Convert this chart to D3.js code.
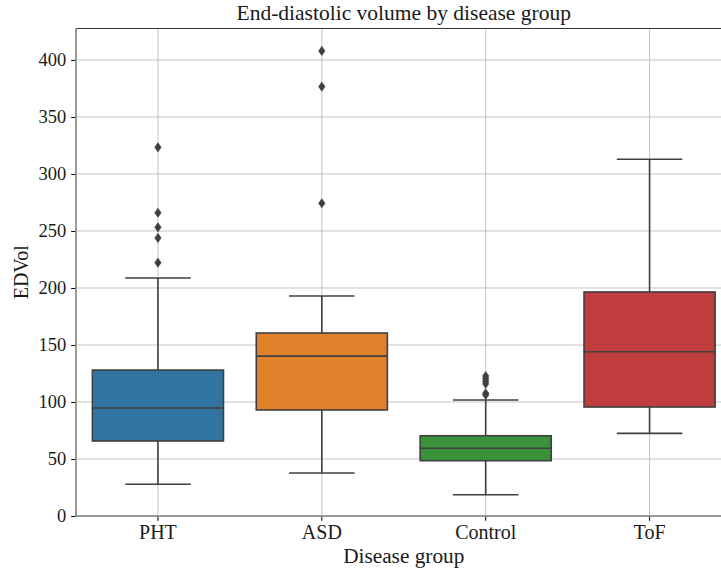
<!DOCTYPE html>
<html>
<head>
<meta charset="utf-8">
<script src="https://cdn.jsdelivr.net/npm/d3@7"></script>
<style>
  html, body { margin: 0; padding: 0; background: #fff; }
  svg { display: block; }
  text { font-family: "Liberation Serif", "DejaVu Serif", serif; fill: #1a1a1a; }
</style>
</head>
<body>
<svg id="chart" width="721" height="572"></svg>
<script>
const categories = ["PHT", "ASD", "Control", "ToF"];
const q1 = [65.8, 93, 48.5, 95.6];
const median = [94.7, 140.2, 59.4, 144.1];
const q3 = [128, 160.5, 70.4, 196.5];
const whiskerLow = [27.8, 37.7, 18.7, 72.5];
const whiskerHigh = [208.8, 193, 101.8, 312.9];
const outliers = [
  [323.4, 266, 253.2, 243.9, 222.2],
  [407.9, 376.6, 274.3],
  [122.8, 120.6, 118.3, 116, 107.6, 106.2],
  []
];
const yTicks = [0, 50, 100, 150, 200, 250, 300, 350, 400];
const colors = ["#3274a1", "#e1812c", "#3a923a", "#c03d3e"];

const svg = d3.select("#chart");
const m = { left: 76, right: 731.5, top: 28.5, bottom: 516 };
const lineColor = "#3f3f3f";

const x = d3.scaleBand().domain(categories).range([m.left, m.right]).paddingInner(0).paddingOuter(0);
const y = d3.scaleLinear().domain([0, 427.6]).range([m.bottom, m.top]);

const bw = x.bandwidth();

// grid
const grid = svg.append("g");
grid.selectAll("line.hy").data(yTicks).join("line")
  .attr("x1", m.left).attr("x2", m.right)
  .attr("y1", d => y(d)).attr("y2", d => y(d))
  .attr("stroke", "#b0b0b0").attr("stroke-opacity", 0.75).attr("stroke-width", 1);
grid.selectAll("line.vx").data(categories).join("line")
  .attr("x1", d => x(d) + bw / 2).attr("x2", d => x(d) + bw / 2)
  .attr("y1", m.top).attr("y2", m.bottom)
  .attr("stroke", "#b0b0b0").attr("stroke-opacity", 0.75).attr("stroke-width", 1);

// boxes
const data = categories.map((c, i) => ({ c, i }));
const g = svg.append("g");
data.forEach(({ c, i }) => {
  const cx = x(c) + bw / 2;
  const boxW = bw * 0.8;
  const capW = boxW * 0.5;
  g.append("line").attr("x1", cx).attr("x2", cx).attr("y1", y(q3[i])).attr("y2", y(whiskerHigh[i]))
    .attr("stroke", lineColor).attr("stroke-width", 1.6);
  g.append("line").attr("x1", cx).attr("x2", cx).attr("y1", y(q1[i])).attr("y2", y(whiskerLow[i]))
    .attr("stroke", lineColor).attr("stroke-width", 1.6);
  g.append("line").attr("x1", cx - capW / 2).attr("x2", cx + capW / 2).attr("y1", y(whiskerHigh[i])).attr("y2", y(whiskerHigh[i]))
    .attr("stroke", lineColor).attr("stroke-width", 1.6);
  g.append("line").attr("x1", cx - capW / 2).attr("x2", cx + capW / 2).attr("y1", y(whiskerLow[i])).attr("y2", y(whiskerLow[i]))
    .attr("stroke", lineColor).attr("stroke-width", 1.6);
  g.append("rect").attr("x", cx - boxW / 2).attr("width", boxW)
    .attr("y", y(q3[i])).attr("height", y(q1[i]) - y(q3[i]))
    .attr("fill", colors[i]).attr("stroke", lineColor).attr("stroke-width", 1.6);
  g.append("line").attr("x1", cx - boxW / 2).attr("x2", cx + boxW / 2).attr("y1", y(median[i])).attr("y2", y(median[i]))
    .attr("stroke", lineColor).attr("stroke-width", 1.6);
  g.selectAll(null).data(outliers[i]).join("path")
    .attr("d", d => {
      const px = cx, py = y(d), hw = 3.2, hh = 4.6;
      return `M${px},${py - hh}L${px + hw},${py}L${px},${py + hh}L${px - hw},${py}Z`;
    })
    .attr("fill", lineColor).attr("stroke", lineColor).attr("stroke-width", 0.6);
});

// spines
svg.append("line").attr("x1", m.left).attr("x2", m.right).attr("y1", m.top).attr("y2", m.top)
  .attr("stroke", "#333").attr("stroke-width", 1.2);
svg.append("line").attr("x1", m.left).attr("x2", m.left).attr("y1", m.top).attr("y2", m.bottom + 0.75)
  .attr("stroke", "#808080").attr("stroke-width", 1.6);
svg.append("line").attr("x1", m.left - 0.8).attr("x2", m.right).attr("y1", m.bottom).attr("y2", m.bottom)
  .attr("stroke", "#808080").attr("stroke-width", 1.6);

// axes
const yAxis = d3.axisLeft(y).tickValues(yTicks).tickSize(4).tickPadding(5).tickFormat(d3.format("d"));
const ya = svg.append("g").attr("transform", `translate(${m.left - 0.8},0)`).call(yAxis);
ya.select(".domain").remove();
ya.selectAll(".tick line").attr("stroke", "#000").attr("stroke-width", 1);
ya.selectAll(".tick text").attr("font-size", 18.5).attr("font-family", "Liberation Serif").attr("fill", "#1a1a1a");

const xAxis = d3.axisBottom(x).tickSize(4).tickPadding(4);
const xa = svg.append("g").attr("transform", `translate(0,${m.bottom + 0.8})`).call(xAxis);
xa.select(".domain").remove();
xa.selectAll(".tick line").attr("stroke", "#000").attr("stroke-width", 1);
xa.selectAll(".tick text").attr("font-size", 20).attr("font-family", "Liberation Serif").attr("fill", "#1a1a1a");

// labels
svg.append("text").attr("x", (m.left + m.right) / 2).attr("y", 20)
  .attr("text-anchor", "middle").attr("font-size", 21.5).text("End-diastolic volume by disease group");
svg.append("text").attr("x", (m.left + m.right) / 2).attr("y", 563)
  .attr("text-anchor", "middle").attr("font-size", 21.3).text("Disease group");
svg.append("text").attr("transform", `translate(28,${(m.top + m.bottom) / 2}) rotate(-90)`)
  .attr("text-anchor", "middle").attr("font-size", 20).text("EDVol");
</script>
</body>
</html>
